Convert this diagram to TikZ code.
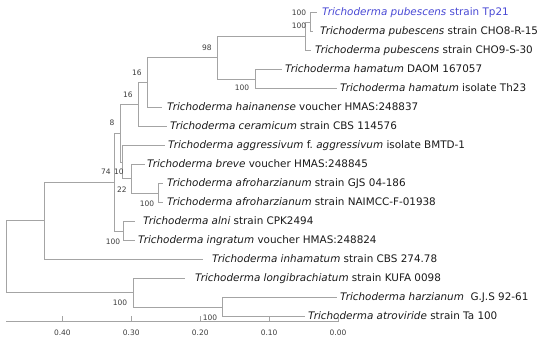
\documentclass[tikz,border=0pt]{standalone}
\usepackage{fontspec}
\setmainfont{DejaVu Sans}
\usetikzlibrary{positioning}
\definecolor{treegray}{HTML}{A4A4A4}
\definecolor{treeblack}{HTML}{1A1A1A}
\definecolor{treeblue}{HTML}{4848D4}

\begin{document}
\begin{tikzpicture}[x=1pt, y=-1pt,
    branch/.style={draw=treegray, line width=0.75pt},
    leaf/.style={anchor=west, inner sep=0pt, text height=1.5ex, text depth=.25ex, font=\fontsize{10.4}{12}\selectfont, text=treeblack},
    boot/.style={inner sep=0pt, font=\fontsize{7.5}{9}\selectfont, text=treeblack!85}
  ]
  \useasboundingbox (0,0) rectangle (550,341);

  % internal nodes
  \coordinate (n12) at (310,22);
  \coordinate (n123) at (305,36.25);
  \coordinate (nham) at (255,79);
  \coordinate (n98) at (217,57.6);
  \coordinate (u16) at (147,82.6);
  \coordinate (l16) at (138.5,104.5);
  \coordinate (nafro) at (158,193);
  \coordinate (n22) at (131.7,178.75);
  \coordinate (n10) at (122,162.1);
  \coordinate (n8) at (120,133.3);
  \coordinate (nalni) at (123,231);
  \coordinate (n74) at (114,182.2);
  \coordinate (cA) at (44,220.8);
  \coordinate (nharz) at (222,307);
  \coordinate (cB) at (133,292.75);
  \coordinate (root) at (6,256.8);

  % tips
  \coordinate (t1) at (317,12.5);
  \coordinate (t2) at (313,31.5);
  \coordinate (t3) at (311,50.5);
  \coordinate (t4) at (282,69.5);
  \coordinate (t5) at (337,88.5);
  \coordinate (t6) at (162,107.5);
  \coordinate (t7) at (167,126.5);
  \coordinate (t8) at (165,145.5);
  \coordinate (t9) at (145,164.5);
  \coordinate (t10) at (163,183.5);
  \coordinate (t11) at (163,202.5);
  \coordinate (t12) at (135,221.5);
  \coordinate (t13) at (135,240.5);
  \coordinate (t14) at (203,259.5);
  \coordinate (t15) at (185,278.5);
  \coordinate (t16) at (337,297.5);
  \coordinate (t17) at (305,316.5);

  % taxa
  \node[leaf, text=treeblue, right=5pt of t1] (s1) {\textit{Trichoderma pubescens} strain Tp21};
  \node[leaf, right=7pt of t2] (s2) {\textit{Trichoderma pubescens} strain CHO8-R-15};
  \node[leaf, right=4pt of t3] (s3) {\textit{Trichoderma pubescens} strain CHO9-S-30};
  \node[leaf, right=3pt of t4] (s4) {\textit{Trichoderma hamatum} DAOM 167057};
  \node[leaf, right=3pt of t5] (s5) {\textit{Trichoderma hamatum} isolate Th23};
  \node[leaf, right=5pt of t6] (s6) {\textit{Trichoderma hainanense} voucher HMAS:248837};
  \node[leaf, right=3pt of t7] (s7) {\textit{Trichoderma ceramicum} strain CBS 114576};
  \node[leaf, right=3pt of t8] (s8) {\textit{Trichoderma aggressivum} f.\ \textit{aggressivum} isolate BMTD-1};
  \node[leaf, right=2pt of t9] (s9) {\textit{Trichoderma breve} voucher HMAS:248845};
  \node[leaf, right=4pt of t10] (s10) {\textit{Trichoderma afroharzianum} strain GJS 04-186};
  \node[leaf, right=4pt of t11] (s11) {\textit{Trichoderma afroharzianum} strain NAIMCC-F-01938};
  \node[leaf, right=8pt of t12] (s12) {\textit{Trichoderma alni} strain CPK2494};
  \node[leaf, right=3pt of t13] (s13) {\textit{Trichoderma ingratum} voucher HMAS:248824};
  \node[leaf, right=9pt of t14] (s14) {\textit{Trichoderma inhamatum} strain CBS 274.78};
  \node[leaf, right=10pt of t15] (s15) {\textit{Trichoderma longibrachiatum} strain KUFA 0098};
  \node[leaf, right=3pt of t16] (s16) {\textit{Trichoderma harzianum}\ \ G.J.S 92-61};
  \node[leaf, right=3pt of t17] (s17) {\textit{Trichoderma atroviride} strain Ta 100};

  % branches
  \draw[branch] (n12) |- (t1);
  \draw[branch] (n12) |- (t2);
  \draw[branch] (n123) |- (n12);
  \draw[branch] (n123) |- (t3);
  \draw[branch] (nham) |- (t4);
  \draw[branch] (nham) |- (t5);
  \draw[branch] (n98) |- (n123);
  \draw[branch] (n98) |- (nham);
  \draw[branch] (u16) |- (n98);
  \draw[branch] (u16) |- (t6);
  \draw[branch] (l16) |- (u16);
  \draw[branch] (l16) |- (t7);
  \draw[branch] (nafro) |- (t10);
  \draw[branch] (nafro) |- (t11);
  \draw[branch] (n22) |- (t9);
  \draw[branch] (n22) |- (nafro);
  \draw[branch] (n10) |- (t8);
  \draw[branch] (n10) |- (n22);
  \draw[branch] (n8) |- (l16);
  \draw[branch] (n8) |- (n10);
  \draw[branch] (nalni) |- (t12);
  \draw[branch] (nalni) |- (t13);
  \draw[branch] (n74) |- (n8);
  \draw[branch] (n74) |- (nalni);
  \draw[branch] (cA) |- (n74);
  \draw[branch] (cA) |- (t14);
  \draw[branch] (nharz) |- (t16);
  \draw[branch] (nharz) |- (t17);
  \draw[branch] (cB) |- (t15);
  \draw[branch] (cB) |- (nharz);
  \draw[branch] (root) |- (cA);
  \draw[branch] (root) |- (cB);

  % bootstrap values
  \node[boot] (b12) at (299,13) {100};
  \node[boot] (b123) at (299,26) {100};
  \node[boot] (b98) at (207,48) {98};
  \node[boot] (bham) at (242,88) {100};
  \node[boot] (bu16) at (137,73) {16};
  \node[boot] (bl16) at (128,95) {16};
  \node[boot] (b8) at (112,123) {8};
  \node[boot] (b74) at (106,172) {74};
  \node[boot] (b10) at (119,172) {10};
  \node[boot] (b22) at (122,190) {22};
  \node[boot] (bafro) at (147,204) {100};
  \node[boot] (balni) at (113,242) {100};
  \node[boot] (bB) at (120,303) {100};
  \node[boot] (bharz) at (210,318) {100};

  % scale axis
  \coordinate (ax0) at (6,321.7);
  \coordinate (ax1) at (338,321.7);
  \draw[branch] (ax0) -- (ax1);
  \foreach \k/\lab in {0/0.00,1/0.10,2/0.20,3/0.30,4/0.40} {
    \draw[branch] ({338-68.9*\k},321.7) -- ++(0,-6);
    \node[boot] at ({338-68.9*\k},333) {\lab};
  }
\end{tikzpicture}
\end{document}
